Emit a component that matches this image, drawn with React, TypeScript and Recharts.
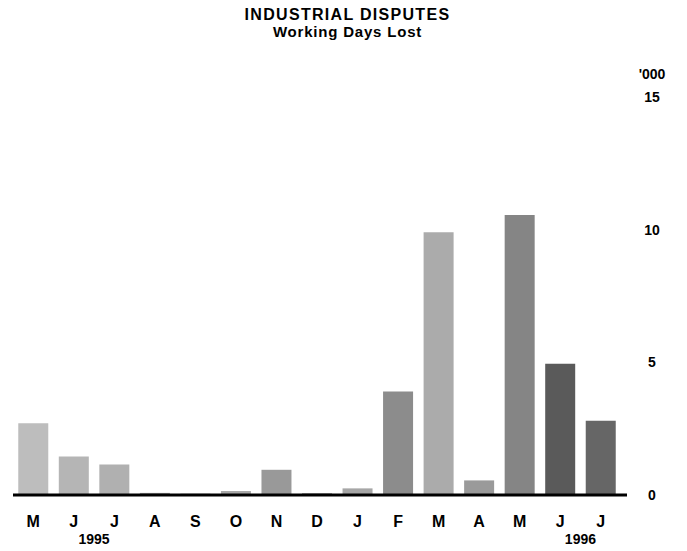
import React from 'react'
import { BarChart, Bar, XAxis, YAxis, Cell } from 'recharts'

// Working days lost, thousands, May 1995 - July 1996
const months = ['M', 'J', 'J', 'A', 'S', 'O', 'N', 'D', 'J', 'F', 'M', 'A', 'M', 'J', 'J']
const daysLost = [2.7, 1.45, 1.15, 0.08, 0.05, 0.15, 0.95, 0.07, 0.25, 3.9, 9.9, 0.55, 10.55, 4.95, 2.8]
// year label sits between this month and the next one
const yearLabels = ['', '1995', '', '', '', '', '', '', '', '', '', '', '', '1996', '']
const yTicks = [0, 5, 10, 15]

const barShades = [
  '#bdbdbd', '#b5b5b5', '#b0b0b0', '#a0a0a0', '#a0a0a0', '#a8a8a8', '#999999', '#a0a0a0',
  '#a6a6a6', '#8c8c8c', '#ababab', '#9a9a9a', '#858585', '#5a5a5a', '#666666'
]

const data = months.map((m, i) => ({ month: m, value: daysLost[i], year: yearLabels[i], idx: i }))

const font = '"Liberation Sans", Arial, Helvetica, sans-serif'
const BAND = 40.5

const MonthTick = ({ x, y, payload, index }: any) => {
  const year = yearLabels[payload?.index ?? index]
  return (
    <g>
      <text x={x} y={y + 30} textAnchor="middle" fontFamily={font} fontWeight="bold" fontSize={16} fill="#000">
        {payload.value}
      </text>
      {year ? (
        <text x={x + BAND / 2} y={y + 47} textAnchor="middle" fontFamily={font} fontWeight="bold" fontSize={14} fill="#000">
          {year}
        </text>
      ) : null}
    </g>
  )
}

const ValueTick = ({ y, payload }: any) => (
  <text x={652} y={y + 5} textAnchor="middle" fontFamily={font} fontWeight="bold" fontSize={14} fill="#000">
    {payload.value}
  </text>
)

export default function App() {
  return (
    <div style={{ position: 'absolute', left: 0, top: 0, width: 687, height: 551, background: '#fff' }}>
      <div
        style={{
          position: 'absolute', top: 6, left: 0, width: 687, textAlign: 'center',
          fontFamily: font, fontWeight: 'bold', fontSize: 16, letterSpacing: 1.3, lineHeight: '17px', paddingLeft: 4
        }}
      >
        INDUSTRIAL DISPUTES
        <div style={{ fontSize: 15, letterSpacing: 0.8 }}>Working Days Lost</div>
      </div>
      <div
        style={{
          position: 'absolute', top: 66, left: 632, width: 40, textAlign: 'center',
          fontFamily: font, fontWeight: 'bold', fontSize: 14
        }}
      >
        '000
      </div>
      <BarChart
        width={687}
        height={551}
        data={data}
        margin={{ top: 97, right: 0, bottom: 0, left: 13 }}
        barCategoryGap="13%"
      >
        <XAxis
          dataKey="month"
          interval={0}
          height={56}
          tickLine={false}
          tickSize={0}
          tick={<MonthTick />}
          padding={{ left: 0, right: 6 }}
          axisLine={{ stroke: '#000', strokeWidth: 3 }}
        />
        <YAxis
          orientation="right"
          domain={[0, 15]}
          ticks={yTicks}
          width={60}
          axisLine={false}
          tickLine={false}
          tick={<ValueTick />}
        />
        <Bar dataKey="value" isAnimationActive={false}>
          {data.map((d, i) => (
            <Cell key={d.idx} fill={barShades[i]} />
          ))}
        </Bar>
      </BarChart>
    </div>
  )
}
